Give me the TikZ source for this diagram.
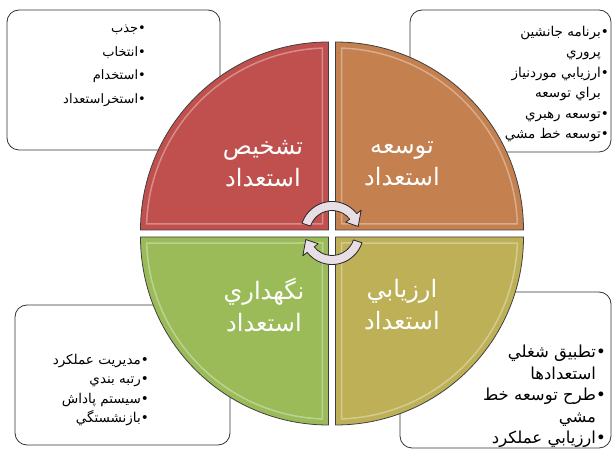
\documentclass[tikz,border=0pt]{standalone}
\usepackage{fontspec}
\newfontfamily\farsi[Script=Arabic]{DejaVu Sans}
\TeXXeTstate=1
\definecolor{qred}{RGB}{192,80,77}
\definecolor{qorange}{RGB}{196,128,79}
\definecolor{qgreen}{RGB}{155,187,89}
\definecolor{qolive}{RGB}{189,176,86}
\definecolor{arrowfill}{RGB}{232,222,230}
\newcommand{\fa}[1]{\beginR #1\endR}

\begin{document}
\begin{tikzpicture}[x=1pt, y=1pt,
    listbox/.style={draw=black!80, line width=0.8pt, fill=white, rounded corners=12pt},
    quarter/.style={draw=black!75, line width=0.8pt},
    bevel/.style={draw=white, draw opacity=0.35, line width=1.5pt},
    cyclearrow/.style={fill=arrowfill, draw=black!85, line width=0.8pt, line join=round},
    title/.style={text=white, font=\farsi\fontsize{24}{32}\selectfont, align=center, inner sep=0},
    items/.style={align=right, inner sep=0, anchor=north east}]
  \useasboundingbox (0,0) rectangle (613,452);

  % List boxes, partly hidden by the wheel
  \draw[listbox] (7,302) rectangle (220,442);
  \draw[listbox] (410,300) rectangle (611,442);
  \draw[listbox] (15,7) rectangle (230,147);
  \draw[listbox] (400,4) rectangle (611,160);

  % Wheel quarters
  \def\R{188}
  \foreach \col/\dx/\dy/\a in {qred/-1/1/90, qorange/1/1/0, qgreen/-1/-1/180, qolive/1/-1/270} {
    \begin{scope}[shift={(332+\dx*3.5, 218.5+\dy*3.5)}]
      \draw[quarter, fill=\col] (0,0) -- (\a:\R) arc[start angle=\a, end angle=\a+90, radius=\R] -- cycle;
      \draw[bevel] (\dx*6,\dy*6) -- (\a+1.9:\R-6) arc[start angle=\a+1.9, end angle=\a+88.1, radius=\R-6] -- cycle;
    \end{scope}
  }

  \node[title] (diagnose) at (263,288) {\fa{تشخيص}\\\fa{استعداد}};
  \node[title] (develop)  at (402,288) {\fa{توسعه}\\\fa{استعداد}};
  \node[title] (retain)   at (264,147) {\fa{نگهداري}\\\fa{استعداد}};
  \node[title] (assess)   at (402,147) {\fa{ارزيابي}\\\fa{استعداد}};

  % Cycle arrows in the middle
  \begin{scope}[shift={(332,219)}]
    \foreach \rot in {0,180} {
      \draw[cyclearrow, rotate=\rot] (162:31.5) arc[start angle=162, end angle=38, radius=31.5]
        -- (38:37) -- (14:27) -- (38:17.5) -- (38:22.5)
        arc[start angle=38, end angle=162, radius=22.5] -- cycle;
    }
  \end{scope}

  % Lists
  \node[items, font=\farsi\fontsize{13}{23.5}\selectfont] (attractlist) at (146,427)
    {\fa{•جذب}\\\fa{•انتخاب}\\\fa{•استخدام}\\\fa{•استخراستعداد}};
  \node[items, font=\farsi\fontsize{13.5}{20.5}\selectfont] (developlist) at (609,426)
    {\fa{•برنامه جانشين}\\\fa{\phantom{•}پروري}\\\fa{•ارزيابي موردنياز}\\\fa{\phantom{•}براي توسعه}\\\fa{•توسعه رهبري}\\\fa{•توسعه خط مشي}};
  \node[items, font=\farsi\fontsize{13.5}{19.5}\selectfont] (retainlist) at (149,98)
    {\fa{•مديريت عملكرد}\\\fa{•رتبه بندي}\\\fa{•سيستم پاداش}\\\fa{•بازنشستگي}};
  \node[items, font=\farsi\fontsize{16.5}{21.5}\selectfont] (assesslist) at (606,107)
    {\fa{•تطبيق شغلي}\\\fa{\phantom{•}استعدادها}\\\fa{•طرح توسعه خط}\\\fa{\phantom{•}مشي}\\\fa{•ارزيابي عملكرد}};
\end{tikzpicture}
\end{document}
